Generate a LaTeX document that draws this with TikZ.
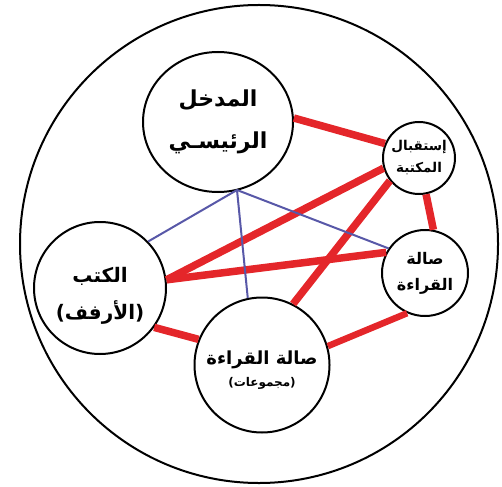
\documentclass[tikz,border=0pt]{standalone}
\usepackage{fontspec}
\usetikzlibrary{shapes.geometric}
\TeXXeTstate=1
\newfontfamily\arabicfont[Script=Arabic]{DejaVu Sans}
\definecolor{linkred}{RGB}{228,38,42}
\definecolor{linkblue}{RGB}{88,88,168}
\begin{document}
\begin{tikzpicture}[x=1pt,y=-1pt,
  room/.style={draw=black, line width=2pt, fill=white, circle, inner sep=0pt, align=center},
  redlink/.style={draw=linkred, line width=7.5pt},
  bluelink/.style={draw=linkblue, line width=2pt}]
\useasboundingbox (0,0) rectangle (502,486);
\node[draw=black, line width=2pt, circle, minimum size=478pt, inner sep=0pt] (site) at (259,244) {};
% rooms
\node[room, ellipse, minimum width=150pt, minimum height=140pt,
      font=\arabicfont\bfseries\fontsize{22}{42}\selectfont] (main) at (218,122)
  {\beginR المدخل\endR\\\beginR الرئيسـي\endR};
\node[room, minimum size=72pt, font=\arabicfont\bfseries\fontsize{13.5}{22}\selectfont] (recep) at (419,158)
  {\beginR إستقبال\endR\\\beginR المكتبة\endR};
\node[room, minimum size=86pt, font=\arabicfont\bfseries\fontsize{16}{26}\selectfont] (hall) at (425,273)
  {\beginR صالة\endR\\\beginR القراءة\endR};
\node[room, minimum size=132pt, font=\arabicfont\bfseries\fontsize{20}{37}\selectfont] (books) at (100,288)
  {\rule{0pt}{30pt}\beginR الكتب\endR\\\beginR (الأرفف)\endR};
\node[room, minimum size=135pt, font=\arabicfont\bfseries\fontsize{18}{22}\selectfont] (group) at (262,365)
  {\rule{0pt}{24pt}\beginR صالة القراءة\endR\\{\fontsize{12}{14}\selectfont\beginR (مجموعات)\endR}};
% connectors
\coordinate (mb) at (237,190);
\draw[redlink] (main.3) -- (recep.157);
\draw[redlink] (recep.196) -- (books.7);
\draw[redlink] (recep.218) -- (group.63);
\draw[redlink] (recep.-79) -- (hall.79);
\draw[redlink] (books.7) -- (hall.152);
\draw[redlink] (books.-36) -- (group.158);
\draw[redlink, line width=6.5pt] (group.16) -- (hall.-114);
\draw[bluelink] (mb) -- (books.44);
\draw[bluelink] (mb) -- (group.102);
\draw[bluelink] (mb) -- (hall.146);
\end{tikzpicture}
\end{document}
